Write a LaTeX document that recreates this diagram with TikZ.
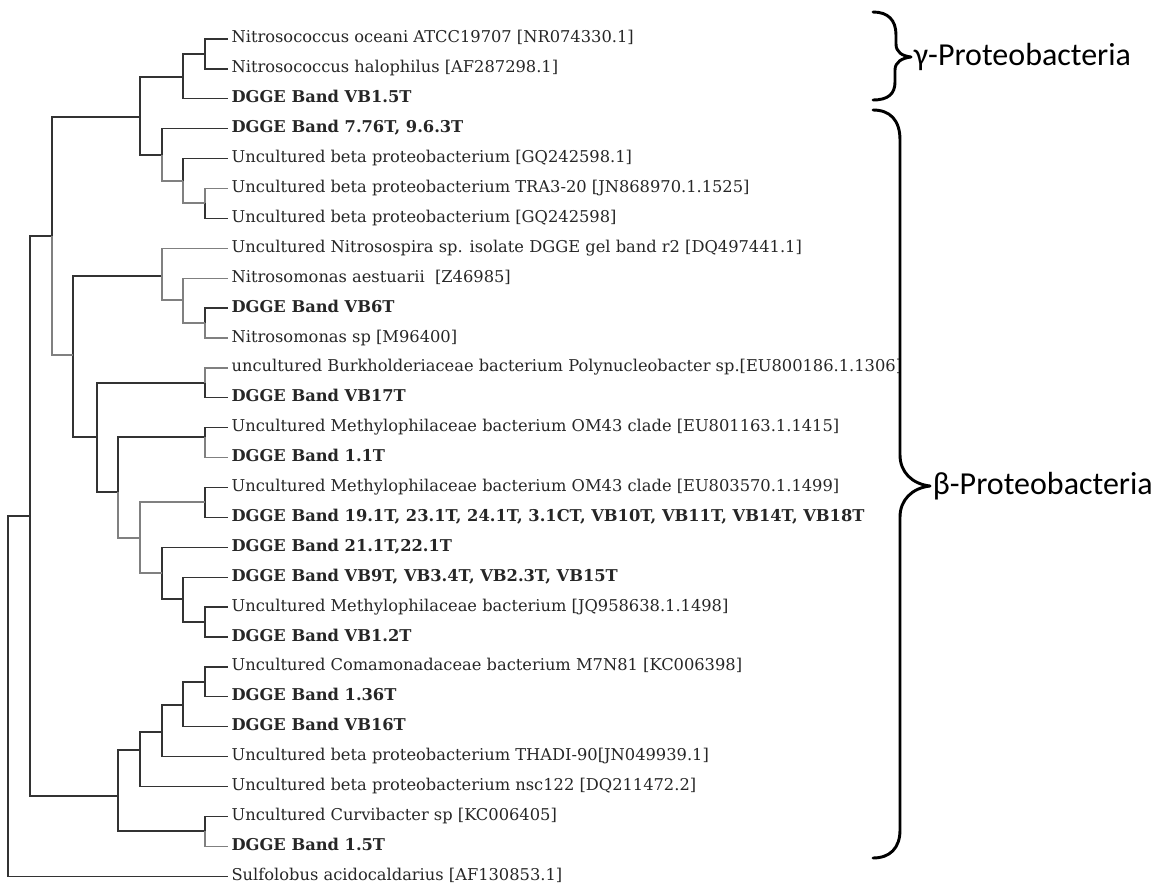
\documentclass[tikz,border=0pt]{standalone}
\usepackage{fontspec}
\setmainfont{DejaVu Serif}
\newfontfamily\cladefont{Carlito}
\usetikzlibrary{calc}

\begin{document}
\begin{tikzpicture}[x=0.75pt, y=-0.75pt,
  branch/.style={draw=black!80, line width=1pt},
  faint/.style={draw=black!50, line width=1pt},
  leaf/.style={anchor=west, inner xsep=2.5pt, inner ysep=0pt, text=black!85,
    font=\fontsize{12.2}{14}\selectfont, text height=8.5pt, text depth=2.5pt},
  clade/.style={anchor=west, inner xsep=2pt, text=black,
    font=\cladefont\fontsize{24}{28}\selectfont},
  bracket/.style={draw=black, line width=2.2pt, line cap=round, line join=round}]
  \useasboundingbox (0,0) rectangle (1166,888);
  \def\dy{29.9}

  %% ── Leaves (taxa) ──────────────────────────────────────────
  \foreach \i/\f/\txt in {
    1/\mdseries/{Nitrosococcus oceani ATCC19707 [NR074330.1]},
    2/\mdseries/{Nitrosococcus halophilus [AF287298.1]},
    3/\bfseries/{DGGE Band VB1.5T},
    4/\bfseries/{DGGE Band 7.76T, 9.6.3T},
    5/\mdseries/{Uncultured beta proteobacterium [GQ242598.1]},
    6/\mdseries/{Uncultured beta proteobacterium TRA3-20 [JN868970.1.1525]},
    7/\mdseries/{Uncultured beta proteobacterium [GQ242598]},
    8/\mdseries/{Uncultured Nitrosospira sp. isolate DGGE gel band r2 [DQ497441.1]},
    9/\mdseries/{Nitrosomonas aestuarii\ \ [Z46985]},
    10/\bfseries/{DGGE Band VB6T},
    11/\mdseries/{Nitrosomonas sp [M96400]},
    12/\mdseries/{uncultured Burkholderiaceae bacterium Polynucleobacter sp.[EU800186.1.1306]},
    13/\bfseries/{DGGE Band VB17T},
    14/\mdseries/{Uncultured Methylophilaceae bacterium OM43 clade [EU801163.1.1415]},
    15/\bfseries/{DGGE Band 1.1T},
    16/\mdseries/{Uncultured Methylophilaceae bacterium OM43 clade [EU803570.1.1499]},
    17/\bfseries/{DGGE Band 19.1T, 23.1T, 24.1T, 3.1CT, VB10T, VB11T, VB14T, VB18T},
    18/\bfseries/{DGGE Band 21.1T,22.1T},
    19/\bfseries/{DGGE Band VB9T, VB3.4T, VB2.3T, VB15T},
    20/\mdseries/{Uncultured Methylophilaceae bacterium [JQ958638.1.1498]},
    21/\bfseries/{DGGE Band VB1.2T},
    22/\mdseries/{Uncultured Comamonadaceae bacterium M7N81 [KC006398]},
    23/\bfseries/{DGGE Band 1.36T},
    24/\bfseries/{DGGE Band VB16T},
    25/\mdseries/{Uncultured beta proteobacterium THADI-90[JN049939.1]},
    26/\mdseries/{Uncultured beta proteobacterium nsc122 [DQ211472.2]},
    27/\mdseries/{Uncultured Curvibacter sp [KC006405]},
    28/\bfseries/{DGGE Band 1.5T},
    29/\mdseries/{Sulfolobus acidocaldarius [AF130853.1]}}{
    \node[leaf] (l\i) at (228, {39+(\i-1)*\dy}) {\f\txt};
  }

  %% ── Internal nodes (x = depth, y = between children) ───────
  %% gamma group
  \coordinate (nA) at (205,54);
  \coordinate (nB) at (183,77);
  %% beta group I
  \coordinate (nF) at (205,203);
  \coordinate (nE) at (183,181);
  \coordinate (nD) at (162,155);
  \coordinate (nC) at (140,117);
  %% Nitrosomonas / Nitrosospira
  \coordinate (nM) at (205,323);
  \coordinate (nL) at (183,300);
  \coordinate (nK) at (162,276);
  %% Methylophilaceae and bands
  \coordinate (nO) at (205,383);
  \coordinate (nQ) at (205,437);
  \coordinate (nT) at (205,502);
  \coordinate (nW) at (205,622);
  \coordinate (nV) at (183,599);
  \coordinate (nU) at (162,573);
  \coordinate (nS) at (140,538);
  \coordinate (nP) at (118,492);
  \coordinate (nN) at (97,437);
  \coordinate (nH) at (73,355);
  \coordinate (nG) at (52,236);
  %% Comamonadaceae / Curvibacter
  \coordinate (nAA) at (205,682);
  \coordinate (nZ) at (183,705);
  \coordinate (nY) at (162,732);
  \coordinate (nX) at (140,750);
  \coordinate (nBB) at (205,831);
  \coordinate (nJ) at (118,796);
  \coordinate (nI) at (30,516);
  %% root (outgroup Sulfolobus)
  \coordinate (nR) at (8,696);

  %% ── Branches ───────────────────────────────────────────────
  \foreach \p/\c in {nA/l1, nA/l2, nB/nA, nB/l3, nC/nB, nC/nD, nD/l4,
      nE/l5, nF/l7, nG/nC, nH/nK, nH/nN, nM/l10, nN/nO, nN/nP, nO/l13,
      nP/nQ, nQ/l14, nT/l16, nT/l17, nU/l18, nU/nV, nV/l19, nV/nW,
      nW/l20, nW/l21, nAA/l22, nAA/l23, nZ/nAA, nZ/l24, nY/nZ, nY/l25,
      nX/nY, nX/l26, nJ/nX, nJ/nBB, nBB/l27, nI/nG, nI/nJ, nR/nI, nR/l29}{
    \draw[branch] (\p) |- (\c);
  }
  \foreach \p/\c in {nD/nE, nE/nF, nF/l6, nG/nH, nK/l8, nK/nL, nL/l9,
      nL/nM, nM/l11, nO/l12, nQ/l15, nP/nS, nS/nT, nS/nU, nBB/l28}{
    \draw[faint] (\p) |- (\c);
  }

  %% ── Clade brackets ─────────────────────────────────────────
  \node[clade] (gam) at (911,57) {γ-Proteobacteria};
  \node[clade] (bet) at (930,486) {β-Proteobacteria};
  \draw[bracket] (873,12) .. controls (888,12) and (896,20) .. (896,35)
    -- (896,44) .. controls (896,52) and (902,56) .. (gam.west)
    .. controls (902,58) and (895,62) .. (895,70)
    -- (895,82) .. controls (895,94) and (888,100) .. (873,100);
  \draw[bracket] (873,110) .. controls (890,110) and (900,120) .. (900,140)
    -- (900,455) .. controls (900,472) and (912,484) .. (bet.west)
    .. controls (912,488) and (900,500) .. (900,517)
    -- (900,830) .. controls (900,848) and (890,858) .. (873,858);
\end{tikzpicture}
\end{document}
